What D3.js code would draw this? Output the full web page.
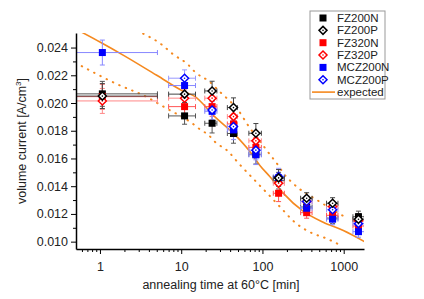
<!DOCTYPE html>
<html>
<head>
<meta charset="utf-8">
<script src="https://d3js.org/d3.v7.min.js"></script>
<style>
	body { margin: 0; background: #fff; }
	text { font-family: "Liberation Sans", Arial, sans-serif; fill: #222; }
</style>
</head>
<body>
<div id="chart"></div>
<script>
	// annealing times [min] and their horizontal error bars
	const times = [1.07, 11, 24, 44, 83, 158, 350, 730, 1520];
	const timeLo = [0.3, 7, 19.5, 37, 68, 136, 295, 615, 1300];
	const timeHi = [5.1, 15, 27.5, 49, 97, 186, 408, 850, 1800];
	const yErr = [0.0009, 0.0006, 0.0007, 0.0007, 0.0007, 0.0006, 0.0004, 0.0004, 0.0004];

	const fz200n = [0.02066, 0.01907, 0.01854, 0.01780, 0.01630, 0.01440, 0.01250, 0.01170, 0.01180];
	const fz200p = [0.02050, 0.02064, 0.02087, 0.01967, 0.01782, 0.01460, 0.01313, 0.01277, 0.01162];
	const fz320n = [0.02046, 0.01974, 0.01974, 0.01849, 0.01680, 0.01349, 0.01209, 0.01190, 0.01113];
	const fz320p = [0.02015, 0.02035, 0.02035, 0.01902, 0.01727, 0.01421, 0.01289, 0.01253, 0.01150];
	const mcz200n = [0.02364, 0.02126, 0.01940, 0.01806, 0.01626, 0.01460, 0.01241, 0.01162, 0.01072];
	const mcz200p = [null, 0.02179, 0.01950, 0.01830, 0.01660, 0.01469, 0.01290, 0.01230, 0.01130];

	// expected curve and its band (dotted)
	const expT = [0.6, 1, 2, 5, 11, 14.5, 26, 46, 70, 93, 123, 180, 316, 560, 990, 1800];
	const expV = [0.0251, 0.0244, 0.0234, 0.0220, 0.0208, 0.0205, 0.0190, 0.0177, 0.0165, 0.0155, 0.0147, 0.0135, 0.0122, 0.0114, 0.0108, 0.0100];
	const upT = [3.4, 5.5, 8, 12, 15, 21.6, 30, 50, 70, 100, 123, 148, 189, 228, 533, 1100];
	const upV = [0.0250, 0.0243, 0.0235, 0.0228, 0.0222, 0.0216, 0.0208, 0.0195, 0.0182, 0.0170, 0.0163, 0.0157, 0.0148, 0.0143, 0.0128, 0.0117];
	const loT = [0.5, 1.57, 3.86, 6.2, 13.9, 17, 21.6, 26, 38, 50, 87.5, 123, 171, 250, 380, 630, 940];
	const loV = [0.0229, 0.0214, 0.0204, 0.0197, 0.0185, 0.0181, 0.0177, 0.0172, 0.0165, 0.0157, 0.0142, 0.0133, 0.0124, 0.0114, 0.0107, 0.0102, 0.0097];

	const yTicks = [0.010, 0.012, 0.014, 0.016, 0.018, 0.020, 0.022, 0.024];
	const xTicks = [1, 10, 100, 1000];

	const series = [
		{ name: "FZ200N", vals: fz200n, color: "#000", err: "#555", shape: "square" },
		{ name: "FZ200P", vals: fz200p, color: "#000", err: "#444", shape: "diamond" },
		{ name: "FZ320N", vals: fz320n, color: "#f00", err: "#f55", shape: "square" },
		{ name: "FZ320P", vals: fz320p, color: "#f00", err: "#f88", shape: "diamond" },
		{ name: "MCZ200N", vals: mcz200n, color: "#00f", err: "#88f", shape: "square" },
		{ name: "MCZ200P", vals: mcz200p, color: "#00f", err: "#99f", shape: "diamond" }
	];
	const drawOrder = [0, 2, 4, 3, 5, 1];

	const W = 424, H = 299;
	const pLeft = 76, pRight = 364, pTop = 33, pBottom = 249;

	const svg = d3.select("#chart").append("svg")
		.attr("width", W)
		.attr("height", H);

	const x = d3.scaleLog().domain([0.507, 1778]).range([pLeft, pRight]);
	const y = d3.scaleLinear().domain([0.00947, 0.02505]).range([pBottom, pTop]);

	svg.append("clipPath").attr("id", "plot")
		.append("rect")
		.attr("x", pLeft).attr("y", pTop)
		.attr("width", pRight - pLeft).attr("height", pBottom - pTop);

	const plot = svg.append("g").attr("clip-path", "url(#plot)");

	// expected curve + band
	const line = d3.line()
		.x(d => x(d[0]))
		.y(d => y(d[1]))
		.curve(d3.curveMonotoneX);

	const band = [[upT, upV], [loT, loV]];
	band.forEach(([ts, vs]) => {
		plot.append("path")
			.datum(ts.map((t, i) => [t, vs[i]]))
			.attr("fill", "none")
			.attr("stroke", "#f5891f")
			.attr("stroke-width", 2)
			.attr("stroke-linecap", "round")
			.attr("stroke-dasharray", "0.5,6.5")
			.attr("d", line);
	});

	plot.append("path")
		.datum(expT.map((t, i) => [t, expV[i]]))
		.attr("fill", "none")
		.attr("stroke", "#f5891f")
		.attr("stroke-width", 1.6)
		.attr("d", line);

	// error bars
	drawOrder.forEach(si => {
		const s = series[si];
		const g = plot.append("g")
			.attr("stroke", s.err)
			.attr("stroke-width", 1);
		s.vals.forEach((v, i) => {
			if (v == null) return;
			const cx = x(times[i]), cy = y(v);
			const x0 = x(timeLo[i]), x1 = x(timeHi[i]);
			const y0 = y(v - yErr[i]), y1 = y(v + yErr[i]);
			g.append("line").attr("x1", x0).attr("x2", x1).attr("y1", cy).attr("y2", cy);
			g.append("line").attr("x1", x0).attr("x2", x0).attr("y1", cy - 2.5).attr("y2", cy + 2.5);
			g.append("line").attr("x1", x1).attr("x2", x1).attr("y1", cy - 2.5).attr("y2", cy + 2.5);
			g.append("line").attr("x1", cx).attr("x2", cx).attr("y1", y0).attr("y2", y1);
			g.append("line").attr("x1", cx - 2.5).attr("x2", cx + 2.5).attr("y1", y0).attr("y2", y0);
			g.append("line").attr("x1", cx - 2.5).attr("x2", cx + 2.5).attr("y1", y1).attr("y2", y1);
		});
	});

	function marker(g, shape, color, cx, cy) {
		if (shape === "square") {
			g.append("rect")
				.attr("x", cx - 3.5).attr("y", cy - 3.5)
				.attr("width", 7).attr("height", 7)
				.attr("fill", color);
		} else {
			g.append("path")
				.attr("d", `M${cx},${cy - 4}L${cx + 4},${cy}L${cx},${cy + 4}L${cx - 4},${cy}Z`)
				.attr("fill", "#fff")
				.attr("stroke", color)
				.attr("stroke-width", 1.5);
			g.append("circle")
				.attr("cx", cx).attr("cy", cy).attr("r", 0.8)
				.attr("fill", color);
		}
	}

	drawOrder.forEach(si => {
		const s = series[si];
		const g = plot.append("g");
		s.vals.forEach((v, i) => {
			if (v == null) return;
			marker(g, s.shape, s.color, x(times[i]), y(v));
		});
	});

	// axes
	const yAxis = svg.append("g")
		.attr("transform", `translate(${pLeft},0)`)
		.call(d3.axisLeft(y).tickValues(yTicks).tickFormat(d3.format(".3f")).tickSize(5).tickSizeOuter(0));
	svg.append("g")
		.attr("transform", `translate(${pLeft},0)`)
		.call(d3.axisLeft(y).tickValues(d3.range(0.011, 0.0245, 0.002)).tickFormat("").tickSize(3).tickSizeOuter(0))
		.select(".domain").remove();

	const minorX = [];
	[0.1, 1, 10, 100, 1000].forEach(dec => {
		for (let k = 2; k <= 9; k++) {
			const v = dec * k;
			if (v >= 0.507 && v <= 1778) minorX.push(v);
		}
	});
	const xAxis = svg.append("g")
		.attr("transform", `translate(0,${pBottom})`)
		.call(d3.axisBottom(x).tickValues(xTicks).tickFormat(d3.format("d")).tickSize(5).tickSizeOuter(0));
	svg.append("g")
		.attr("transform", `translate(0,${pBottom})`)
		.call(d3.axisBottom(x).tickValues(minorX).tickFormat("").tickSize(3).tickSizeOuter(0))
		.select(".domain").remove();

	svg.selectAll(".domain").attr("stroke-width", 1.5);
	svg.selectAll(".tick line").attr("stroke", "#000");
	yAxis.selectAll("text").attr("font-size", 12.5).attr("fill", "#222");
	xAxis.selectAll("text").attr("font-size", 12.5).attr("fill", "#222").attr("dy", "1.1em");

	// axis titles
	const yl = svg.append("text")
		.attr("transform", "translate(26,141) rotate(-90)")
		.attr("text-anchor", "middle")
		.attr("font-size", 12.5);
	yl.append("tspan").text("volume current [A/cm");
	yl.append("tspan").attr("font-size", 8).attr("dy", -5).text("3");
	yl.append("tspan").attr("dy", 5).text("]");

	svg.append("text")
		.attr("x", 221).attr("y", 289)
		.attr("text-anchor", "middle")
		.attr("font-size", 12.5)
		.text("annealing time at 60°C [min]");

	// legend
	const lg = svg.append("g");
	lg.append("rect")
		.attr("x", 310).attr("y", 11)
		.attr("width", 75).attr("height", 88)
		.attr("fill", "#fff")
		.attr("stroke", "#999")
		.attr("stroke-width", 1);
	const rowY = i => 18 + i * 12.35;
	series.forEach((s, i) => {
		marker(lg, s.shape, s.color, 323, rowY(i));
		lg.append("text")
			.attr("x", 337).attr("y", rowY(i) + 4)
			.attr("font-size", 11.5)
			.text(s.name);
	});
	lg.append("line")
		.attr("x1", 312).attr("x2", 335)
		.attr("y1", rowY(6)).attr("y2", rowY(6))
		.attr("stroke", "#f5891f")
		.attr("stroke-width", 1.6);
	lg.append("text")
		.attr("x", 337).attr("y", rowY(6) + 4)
		.attr("font-size", 11.5)
		.text("expected");
</script>
</body>
</html>
